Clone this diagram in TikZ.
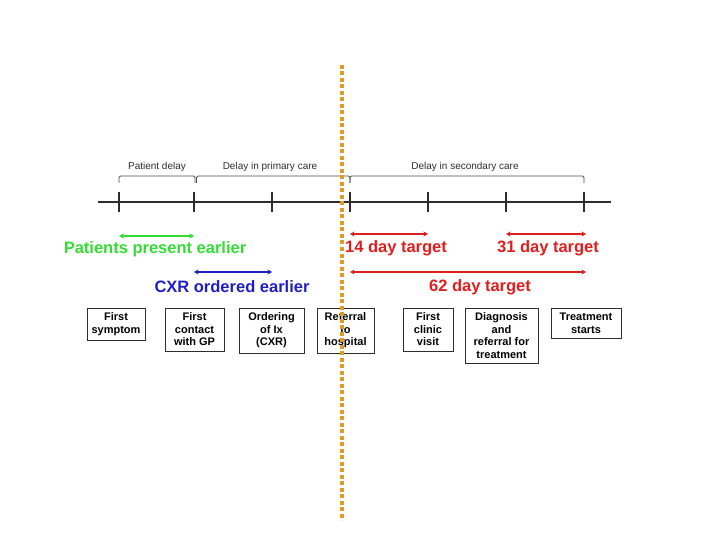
\documentclass[tikz,border=0pt]{standalone}
\usepackage{fontspec}
\setmainfont{Liberation Sans}
\usetikzlibrary{arrows.meta}
\definecolor{ptgreen}{RGB}{51,221,51}
\definecolor{cxrblue}{RGB}{30,30,200}
\definecolor{tgtred}{RGB}{225,30,30}
\definecolor{cutorange}{RGB}{225,155,35}
\definecolor{axisgray}{RGB}{45,45,45}
\begin{document}
\begin{tikzpicture}[x=1pt,y=-1pt,
		box/.style={draw=axisgray,line width=0.9pt,anchor=north,align=center,
			font=\bfseries\fontsize{11}{12.5}\selectfont,inner xsep=0pt,inner ysep=5pt},
		span/.style={line width=1.3pt,{Stealth[length=4.5pt,width=5pt]}-{Stealth[length=4.5pt,width=5pt]}},
		target/.style={font=\bfseries\fontsize{16.5}{18}\selectfont},
		brace/.style={draw=axisgray!85,line width=0.8pt,rounded corners=1.5pt},
		phase/.style={font=\fontsize{10}{12}\selectfont,text=axisgray}]
		\useasboundingbox (0,0) rectangle (720,540);
		% time line and its ticks
		\draw[axisgray,line width=1.1pt] (98,202) coordinate (s) -- (611,202) coordinate (e);
		\foreach \n/\x in {1/119,2/194,3/272,4/350,5/428,6/506,7/584}
			\draw[axisgray,line width=1.1pt] (\x,192) coordinate (t\n) -- (\x,212);
		% delay brackets
		\draw[brace] (t1 |- 0,183) -- (t1 |- 0,176) -- ([xshift=1pt]t2 |- 0,176) -- ([xshift=1pt]t2 |- 0,183);
		\draw[brace] ([xshift=2.5pt]t2 |- 0,183) -- ([xshift=2.5pt]t2 |- 0,176) -- (t4 |- 0,176) -- (t4 |- 0,183);
		\draw[brace] (t4 |- 0,183) -- (t4 |- 0,176) -- (t7 |- 0,176) -- (t7 |- 0,183);
		\node[phase] (pd) at (157,167) {Patient delay};
		\node[phase] (pc) at (270,167) {Delay in primary care};
		\node[phase] (sc) at (465,167) {Delay in secondary care};
		% what moves earlier
		\draw[span,ptgreen] (t1 |- 0,236) -- (t2 |- 0,236);
		\node[target,text=ptgreen] (pe) at (155,249) {Patients present earlier};
		\draw[span,cxrblue] (t2 |- 0,272) -- (t3 |- 0,272);
		\node[target,text=cxrblue] (co) at (232,287) {CXR ordered earlier};
		% targets
		\draw[span,tgtred] (t4 |- 0,234) -- (t5 |- 0,234);
		\node[target,text=tgtred] (d14) at (396,248) {14 day target};
		\draw[span,tgtred] (t6 |- 0,234) -- ([xshift=2pt]t7 |- 0,234);
		\node[target,text=tgtred] (d31) at (548,248) {31 day target};
		\draw[span,tgtred] (t4 |- 0,272) -- ([xshift=2pt]t7 |- 0,272);
		\node[target,text=tgtred] (d62) at (480,287) {62 day target};
		% events
		\node[box,minimum width=58pt] (b1) at (116,307.5) {First\\symptom};
		\node[box,minimum width=59pt] (b2) at (194.5,307.5) {First\\contact\\with GP};
		\node[box,minimum width=65pt] (b3) at (271.5,307.5) {Ordering\\of Ix\\(CXR)};
		\node[box,minimum width=57pt] (b4) at (345.5,307.5) {Referral\\to\\hospital};
		\node[box,minimum width=50pt] (b5) at (428,307.5) {First\\clinic\\visit};
		\node[box,minimum width=73pt] (b6) at (501.5,307.5) {Diagnosis\\and\\referral for\\treatment};
		\node[box,minimum width=70pt] (b7) at (586,307.5) {Treatment\\starts};
		% cut line
		\draw[cutorange,line width=3.2pt,dash pattern=on 4pt off 2.5pt] (342,65) coordinate (ct) -- (342,520) coordinate (cb);
\end{tikzpicture}
\end{document}
